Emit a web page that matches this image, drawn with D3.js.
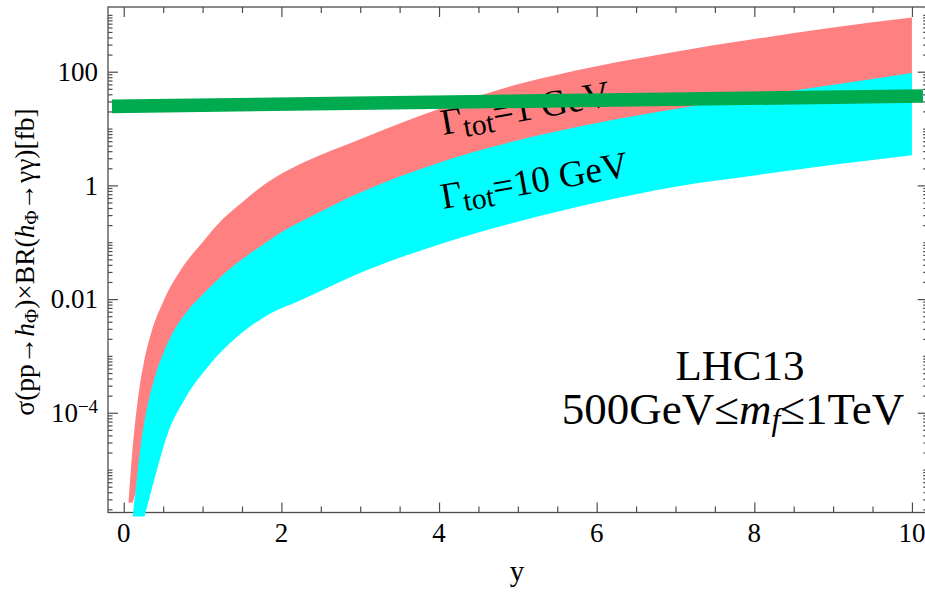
<!DOCTYPE html>
<html>
<head>
  <meta charset="utf-8">
  <script src="https://cdn.jsdelivr.net/npm/d3@7"></script>
  <style>
    body { margin: 0; background: #fff; }
    text { font-family: "Liberation Serif", "Times New Roman", serif; fill: #000; }
  </style>
</head>
<body>
<script>

var width = 925
var height = 595
var serif = "Liberation Serif, Times New Roman, serif";

// band edges, [y, sigma x BR in fb]
var redUpper = [[0.06, 2.6e-6], [0.1, 1.5e-5], [0.15, 8e-5], [0.2, 2.8e-4], [0.25, 7e-4],
  [0.35, 2.6e-3], [0.5, 9e-3], [0.75, 0.037], [1.0, 0.1], [1.25, 0.25], [1.5, 0.5],
  [1.7, 0.85], [2.0, 1.6], [2.3, 2.6], [3.0, 6.5], [4.0, 22], [5.0, 60], [6.0, 125],
  [7.0, 225], [8.0, 375], [9.0, 600], [10.0, 900]];
var redLower = [[0.114, 2.6e-6], [0.263, 1.5e-5], [0.43, 1.1e-4], [0.56, 4.4e-4], [0.77, 1.7e-3],
  [1.07, 6.5e-3], [1.49, 0.025], [2.25, 0.096], [3.08, 0.32], [4.05, 0.96], [5.0, 2.3],
  [6.0, 5], [7.0, 9.5], [8.0, 15], [9.0, 23], [10.0, 34]];
var cyanUpper = [[0.114, 1.5e-6], [0.16, 6e-6], [0.22, 3e-5], [0.3, 1.3e-4], [0.4, 4.5e-4],
  [0.5, 1.1e-3], [0.65, 3e-3], [0.8, 6e-3], [1.0, 0.012], [1.25, 0.026], [1.5, 0.05],
  [1.75, 0.088], [2.0, 0.15], [2.3, 0.25], [3.0, 0.75], [4.0, 2.5], [5.0, 6.2], [6.0, 12.5],
  [7.0, 22], [8.0, 37], [9.0, 59], [10.0, 95]];
var cyanLower = [[0.263, 1.5e-6], [0.35, 4.3e-6], [0.43, 1.1e-5], [0.56, 4.4e-5], [0.77, 1.7e-4],
  [1.07, 6.5e-4], [1.49, 2.5e-3], [1.79, 4.9e-3], [2.25, 9.6e-3], [3.08, 0.032], [4.05, 0.096],
  [5.0, 0.23], [6.0, 0.5], [7.0, 0.95], [8.0, 1.5], [9.0, 2.3], [10.0, 3.4]];
var greenLine = [[-0.15, 24.6], [10.14, 37.4]];

var xMajor = [0, 2, 4, 6, 8, 10];
var xMinor = [0.5, 1, 1.5, 2.5, 3, 3.5, 4.5, 5, 5.5, 6.5, 7, 7.5, 8.5, 9, 9.5];
var yMajor = [1e-4, 0.01, 1, 100];
var yTickLabels = [["10", "\u22124"], ["0.01"], ["1"], ["100"]];

var x = d3.scaleLinear().domain([-0.2, 10.2]).range([108, 927.7]);
var y = d3.scaleLog().domain([1.76e-6, 1375]).range([512.5, 7]);

var yMinor = [];
for (var e = -6; e <= 3; e++) {
  for (var k = 1; k <= 9; k++) {
    var v = k * Math.pow(10, e);
    if (v >= 1.76e-6 && v <= 1375 && !(k == 1 && e % 2 == 0)) yMinor.push(v);
  }
}

var svg = d3.select('body').append("svg")
  .attr("width", width)
  .attr("height", height);

var frameColor = "#4d4d4d";

svg.append("rect")
  .attr("x", x(-0.2)).attr("y", y(1375))
  .attr("width", x(10.2) - x(-0.2)).attr("height", y(1.76e-6) - y(1375))
  .attr("fill", "none").attr("stroke", frameColor).attr("stroke-width", 1.3);

function ticks(axis, tx, ty) {
  svg.append("g")
    .attr("transform", "translate(" + tx + "," + ty + ")")
    .call(axis.tickSizeOuter(0))
    .call(function(g) {
      g.select(".domain").remove();
      g.selectAll("line").attr("stroke", frameColor).attr("stroke-width", 1.2);
      g.selectAll("text").remove();
    });
}

ticks(d3.axisBottom(x).tickValues(xMajor).tickSize(-10), 0, y(1.76e-6));
ticks(d3.axisBottom(x).tickValues(xMinor).tickSize(-6), 0, y(1.76e-6));
ticks(d3.axisTop(x).tickValues(xMajor).tickSize(-10), 0, y(1375));
ticks(d3.axisTop(x).tickValues(xMinor).tickSize(-6), 0, y(1375));
ticks(d3.axisLeft(y).tickValues(yMajor).tickSize(-10), x(-0.2), 0);
ticks(d3.axisLeft(y).tickValues(yMinor).tickSize(-4.5), x(-0.2), 0);
ticks(d3.axisRight(y).tickValues(yMajor).tickSize(-10), x(10.2), 0);
ticks(d3.axisRight(y).tickValues(yMinor).tickSize(-4.5), x(10.2), 0);

// tick labels
svg.selectAll(".xlab")
  .data(xMajor).enter()
  .append("text")
  .attr("x", function(d) { return x(d); })
  .attr("y", 541.7)
  .attr("text-anchor", "middle")
  .attr("font-family", serif)
  .attr("font-size", 27)
  .text(function(d) { return d; });

var yl = svg.selectAll(".ylab")
  .data(yMajor).enter()
  .append("text")
  .attr("x", 98)
  .attr("y", function(d) { return y(d); })
  .attr("dy", "0.34em")
  .attr("text-anchor", "end")
  .attr("font-family", serif)
  .attr("font-size", 27);
yl.each(function(d, i) {
  var t = d3.select(this);
  var parts = yTickLabels[i];
  t.append("tspan").text(parts[0]);
  if (parts.length > 1) {
    t.append("tspan").attr("dy", "-0.45em").attr("font-size", "0.7em").text(parts[1]);
  }
});

// bands
var edge = d3.line()
  .x(function(d) { return x(d[0]); })
  .y(function(d) { return y(d[1]); })
  .curve(d3.curveMonotoneX);

function band(upper, lower) {
  var low = edge(lower.slice().reverse());
  return edge(upper) + "L" + low.slice(1) + "Z";
}

svg.append("path")
  .attr("d", band(redUpper, redLower))
  .attr("fill", "#ff8080");

svg.append("path")
  .attr("d", band(cyanUpper, cyanLower))
  .attr("fill", "#00ffff");

// band labels
function gammaLabel(px, py, value) {
  var t = svg.append("text")
    .attr("transform", "translate(" + px + "," + py + ") rotate(-10)")
    .attr("font-family", serif)
    .attr("font-size", 37);
  t.append("tspan").text("\u0393");
  t.append("tspan").attr("dy", "0.2em").attr("font-size", "0.8em").text("tot");
  t.append("tspan").attr("dy", "-0.16em").text("=" + value + " GeV");
}
gammaLabel(443, 135, "1");
gammaLabel(443, 209, "10");

svg.append("path")
  .attr("d", d3.line().x(function(d) { return x(d[0]); }).y(function(d) { return y(d[1]); })(greenLine))
  .attr("fill", "none")
  .attr("stroke", "#00ab4f")
  .attr("stroke-width", 13.7);

// annotation
svg.append("text")
  .attr("x", 740).attr("y", 380)
  .attr("text-anchor", "middle")
  .attr("font-family", serif)
  .attr("font-size", 43)
  .text("LHC13");

var t2 = svg.append("text")
  .attr("x", 733).attr("y", 424)
  .attr("text-anchor", "middle")
  .attr("font-family", serif)
  .attr("font-size", 45);
t2.append("tspan").text("500GeV\u2264");
t2.append("tspan").attr("font-style", "italic").text("m");
t2.append("tspan").attr("font-style", "italic").attr("font-size", "0.7em").attr("dy", "0.2em").text("f");
t2.append("tspan").attr("dy", "-0.14em").text("\u22641TeV");

// axis labels
svg.append("text")
  .attr("x", 517).attr("y", 581)
  .attr("text-anchor", "middle")
  .attr("font-family", serif)
  .attr("font-size", 29)
  .text("y");

var yt = svg.append("text")
  .attr("transform", "translate(34,262) rotate(-90)")
  .attr("text-anchor", "middle")
  .attr("font-family", serif)
  .attr("font-size", 27.5);
yt.append("tspan").text("\u03c3(pp\u2192");
yt.append("tspan").attr("font-style", "italic").text("h");
yt.append("tspan").attr("font-size", "0.7em").attr("dy", "0.22em").text("\u03a6");
yt.append("tspan").attr("dy", "-0.15em").text(")\u00d7BR(");
yt.append("tspan").attr("font-style", "italic").text("h");
yt.append("tspan").attr("font-size", "0.7em").attr("dy", "0.22em").text("\u03a6");
yt.append("tspan").attr("dy", "-0.15em").text("\u2192\u03b3\u03b3)[fb]");

</script>
</body>
</html>
